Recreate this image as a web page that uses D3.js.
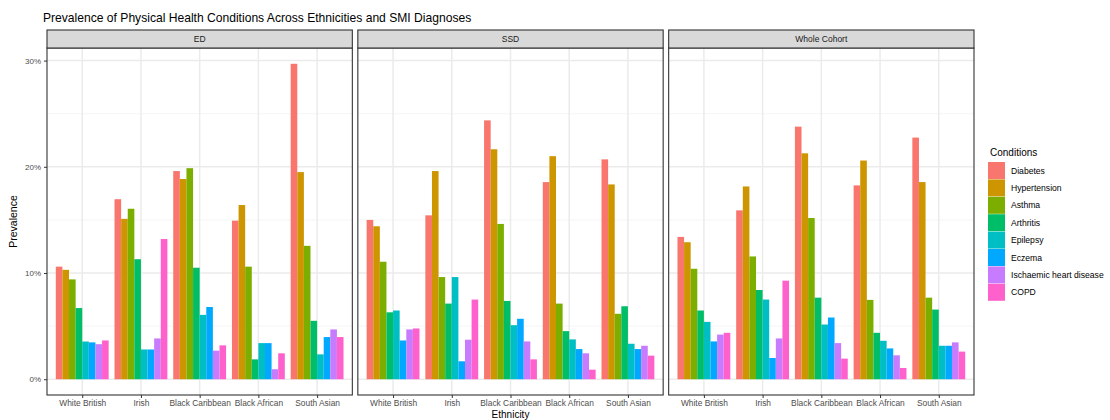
<!DOCTYPE html>
<html>
<head>
<meta charset="utf-8">
<script src="https://cdn.jsdelivr.net/npm/d3@7"></script>
<style>
  body { margin: 0; background: #fff; }
  svg text { font-family: "Liberation Sans", Arial, sans-serif; }
</style>
</head>
<body>
<div id="chart"></div>
<script>
const diagnoses = ["ED", "SSD", "Whole Cohort"]
const ethnicities = ["White British", "Irish", "Black Caribbean", "Black African", "South Asian"]
const conditions = ["Diabetes", "Hypertension", "Asthma", "Arthritis", "Epilepsy", "Eczema", "Ischaemic heart disease", "COPD"]
const colors = ["#F8766D", "#CD9600", "#7CAE00", "#00BE67", "#00BFC4", "#00A9FF", "#C77CFF", "#FF61CC"]
const yTicks = [0, 0.1, 0.2, 0.3]

// prevalence in %, one row per ethnicity, columns follow `conditions`
const edValues = [
    [10.6, 10.3, 9.4, 6.7, 3.55, 3.47, 3.3, 3.65],
    [16.95, 15.1, 16.05, 11.3, 2.8, 2.8, 3.84, 13.2],
    [19.6, 18.85, 19.87, 10.5, 6.06, 6.8, 2.69, 3.19],
    [14.93, 16.4, 10.6, 1.87, 3.4, 3.4, 0.94, 2.44],
    [29.7, 19.5, 12.56, 5.5, 2.34, 3.97, 4.69, 3.97]
]
const ssdValues = [
    [15.0, 14.4, 11.06, 6.3, 6.47, 3.65, 4.69, 4.78],
    [15.43, 19.6, 9.62, 7.12, 9.62, 1.69, 3.72, 7.5],
    [24.37, 21.65, 14.62, 7.37, 5.09, 5.69, 3.56, 1.87],
    [18.56, 21.0, 7.12, 4.53, 3.75, 2.84, 2.44, 0.9],
    [20.7, 18.34, 6.16, 6.87, 3.34, 2.84, 3.15, 2.22]
]
const wholeValues = [
    [13.4, 12.9, 10.4, 6.47, 5.4, 3.56, 4.2, 4.37],
    [15.9, 18.15, 11.56, 8.4, 7.5, 2.0, 3.84, 9.28],
    [23.78, 21.27, 15.18, 7.68, 5.15, 5.81, 3.4, 1.94],
    [18.25, 20.59, 7.47, 4.37, 3.62, 2.9, 2.25, 1.06],
    [22.75, 18.56, 7.68, 6.56, 3.15, 3.15, 3.47, 2.6]
]
const valueSets = [edValues, ssdValues, wholeValues]

let data = []
diagnoses.forEach((dg, k) => {
    ethnicities.forEach((e, i) => {
        conditions.forEach((c, j) => {
            data.push({diagnosis: dg, ethnicity: e, condition: c, value: valueSets[k][i][j] / 100})
        })
    })
})

const W = 1110, H = 420
let svg = d3.select("#chart").append("svg")
    .attr("width", W).attr("height", H)

const panelTop = 48, panelBottom = 395, stripTop = 30

let facet = d3.scaleBand()
    .domain(diagnoses)
    .range([47, 974])
    .paddingInner(0.0177)

const maxV = d3.max(data, d => d.value)
let y = d3.scaleLinear()
    .domain([-maxV * 0.05, maxV * 1.05])
    .range([panelBottom, panelTop])

let color = d3.scaleOrdinal().domain(conditions).range(colors)

// title
svg.append("text")
    .attr("x", 43).attr("y", 22)
    .attr("font-size", 12.1)
    .attr("fill", "#000")
    .text("Prevalence of Physical Health Conditions Across Ethnicities and SMI Diagnoses")

diagnoses.forEach(dg => {
    let x0 = facet(dg), w = facet.bandwidth()
    let g = svg.append("g").attr("transform", "translate(" + x0 + ",0)")

    let x = d3.scalePoint().domain(ethnicities).range([0, w]).padding(0.6)
    let step = x.step()
    let xInner = d3.scaleBand().domain(conditions).range([-0.45 * step, 0.45 * step])

    // minor grid
    let minor = [0.05, 0.15, 0.25]
    g.selectAll(".minor").data(minor).join("line")
        .attr("x1", 0).attr("x2", w)
        .attr("y1", d => y(d)).attr("y2", d => y(d))
        .attr("stroke", "#F2F2F2").attr("stroke-width", 0.8)
    // major grid
    g.selectAll(".hmajor").data(yTicks).join("line")
        .attr("x1", 0).attr("x2", w)
        .attr("y1", d => y(d)).attr("y2", d => y(d))
        .attr("stroke", "#EBEBEB").attr("stroke-width", 1.5)
    g.selectAll(".vmajor").data(ethnicities).join("line")
        .attr("x1", d => x(d)).attr("x2", d => x(d))
        .attr("y1", panelTop).attr("y2", panelBottom)
        .attr("stroke", "#EBEBEB").attr("stroke-width", 1.5)

    // bars
    g.selectAll(".bar")
        .data(data.filter(d => d.diagnosis == dg))
        .join("rect")
        .attr("x", d => x(d.ethnicity) + xInner(d.condition))
        .attr("y", d => y(d.value))
        .attr("width", xInner.bandwidth())
        .attr("height", d => y(0) - y(d.value))
        .attr("fill", d => color(d.condition))

    // panel border
    g.append("rect")
        .attr("x", 0).attr("y", panelTop)
        .attr("width", w).attr("height", panelBottom - panelTop)
        .attr("fill", "none").attr("stroke", "#333").attr("stroke-width", 1.1)

    // strip
    g.append("rect")
        .attr("x", 0).attr("y", stripTop)
        .attr("width", w).attr("height", panelTop - stripTop)
        .attr("fill", "#D9D9D9").attr("stroke", "#333").attr("stroke-width", 1.1)
    g.append("text")
        .attr("x", w / 2).attr("y", (stripTop + panelTop) / 2 + 3)
        .attr("text-anchor", "middle")
        .attr("font-size", 8.5).attr("fill", "#1A1A1A")
        .text(dg)

    // x axis
    let xa = g.append("g").attr("transform", "translate(0," + panelBottom + ")")
        .call(d3.axisBottom(x).tickSize(3).tickPadding(2))
    xa.select(".domain").remove()
    xa.selectAll("line").attr("stroke", "#333")
    xa.selectAll("text").attr("font-size", 8.4).attr("fill", "#4D4D4D")
        .style("font-family", "Liberation Sans, Arial, sans-serif")
})

// y axis
let ya = svg.append("g").attr("transform", "translate(" + facet(diagnoses[0]) + ",0)")
    .call(d3.axisLeft(y).tickValues(yTicks).tickFormat(d3.format(".0%")).tickSize(3).tickPadding(3))
ya.select(".domain").remove()
ya.selectAll("line").attr("stroke", "#333")
ya.selectAll("text").attr("font-size", 8).attr("fill", "#4D4D4D")
    .style("font-family", "Liberation Sans, Arial, sans-serif")

// axis titles
svg.append("text")
    .attr("transform", "translate(17," + ((panelTop + panelBottom) / 2) + ") rotate(-90)")
    .attr("text-anchor", "middle")
    .attr("font-size", 10.5).attr("fill", "#000")
    .text("Prevalence")
svg.append("text")
    .attr("x", (47 + 974) / 2).attr("y", 417.5)
    .attr("text-anchor", "middle")
    .attr("font-size", 10).attr("fill", "#000")
    .text("Ethnicity")

// legend
let legend = svg.append("g").attr("transform", "translate(988,0)")
legend.append("text")
    .attr("x", 2).attr("y", 156)
    .attr("font-size", 10).attr("fill", "#000")
    .text("Conditions")
let items = legend.selectAll(".item").data(conditions).join("g")
    .attr("transform", (d, i) => "translate(0," + (162 + i * 17.4) + ")")
items.append("rect")
    .attr("width", 17).attr("height", 17)
    .attr("fill", d => color(d))
items.append("text")
    .attr("x", 23).attr("y", 11.5)
    .attr("font-size", 8.6).attr("fill", "#000")
    .text(d => d)
</script>
</body>
</html>
